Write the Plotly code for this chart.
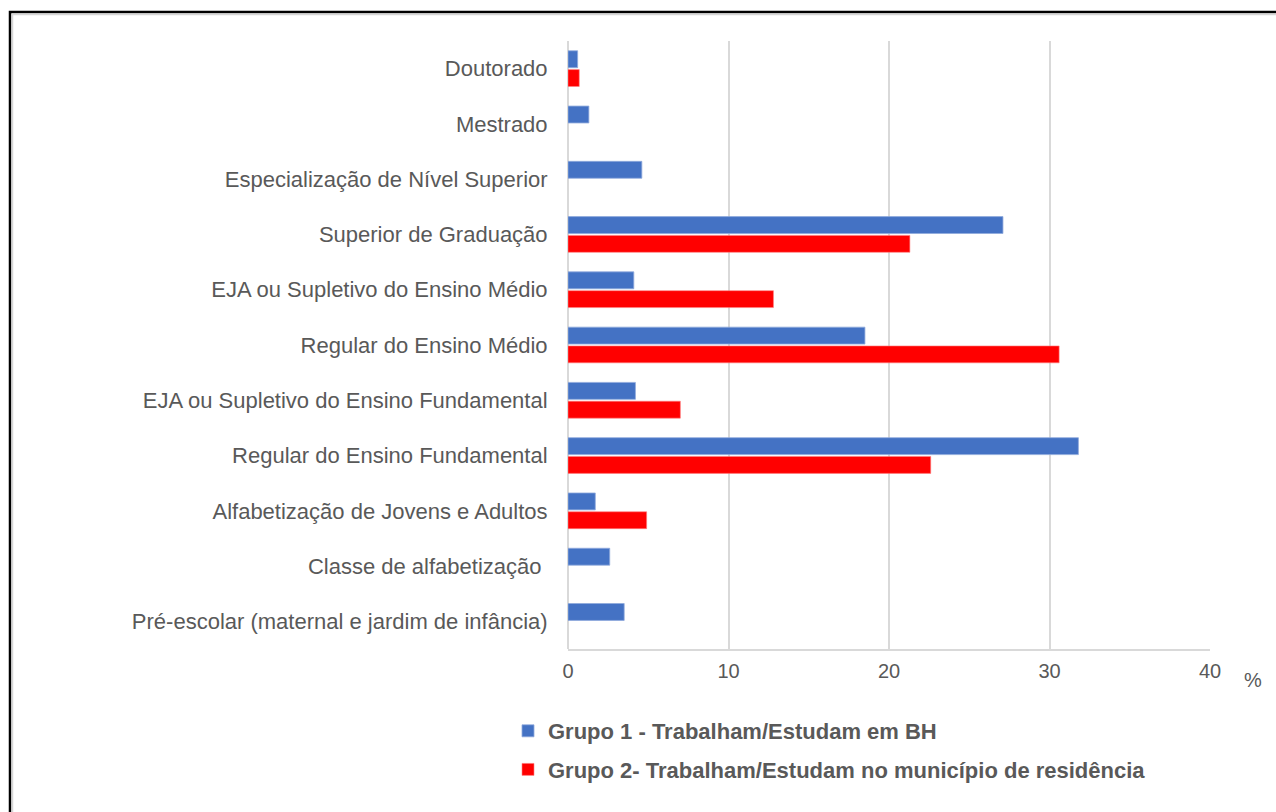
import plotly.graph_objects as go

# Education level categories, listed top to bottom
categories = [
    "Doutorado",
    "Mestrado",
    "Especialização de Nível Superior",
    "Superior de Graduação",
    "EJA ou Supletivo do Ensino Médio",
    "Regular do Ensino Médio",
    "EJA ou Supletivo do Ensino Fundamental",
    "Regular do Ensino Fundamental",
    "Alfabetização de Jovens e Adultos",
    "Classe de alfabetização\u00a0",
    "Pré-escolar (maternal e jardim de infância)",
]

# Percentages per group
grupo1 = [0.6, 1.3, 4.6, 27.1, 4.1, 18.5, 4.2, 31.8, 1.7, 2.6, 3.5]
grupo2 = [0.7, 0.0, 0.0, 21.3, 12.8, 30.6, 7.0, 22.6, 4.9, 0.0, 0.0]

series_names = [
    "Grupo 1 - Trabalham/Estudam em BH",
    "Grupo 2- Trabalham/Estudam no município de residência",
]

x_ticks = [0, 10, 20, 30, 40]

FONT = "Liberation Sans, Arial, sans-serif"
GREY_TEXT = "#595959"


def outline_widths(values, w):
    # no outline on empty bars, so nothing shows at zero
    return [w if v > 0 else 0 for v in values]


fig = go.Figure()
fig.add_trace(go.Bar(
    y=categories, x=grupo1, orientation="h", name=series_names[0],
    legendgroup="g1",
    marker=dict(color="#4472C4",
                line=dict(color="#8FAADC", width=outline_widths(grupo1, 0.8))),
))
fig.add_trace(go.Bar(
    y=categories, x=grupo2, orientation="h", name=series_names[1],
    legendgroup="g2",
    marker=dict(color="#FF0000",
                line=dict(color="#FF8080", width=outline_widths(grupo2, 0.6))),
))

W, H = 1276, 812
L, R, T, B = 568, 66, 41, 163
pw, ph = W - L - R, H - T - B


def px_x(p):
    return (p - L) / pw


def px_y(p):
    return (H - B - p) / ph


fig.update_layout(
    width=W, height=H,
    margin=dict(l=L, r=R, t=T, b=B),
    paper_bgcolor="white", plot_bgcolor="white",
    barmode="group", bargap=0.32, bargroupgap=0.1,
    font=dict(family=FONT, size=20, color=GREY_TEXT),
    showlegend=True,
    legend=dict(
        orientation="v", traceorder="grouped", tracegroupgap=7,
        x=px_x(508), xanchor="left", y=px_y(710), yanchor="top",
        font=dict(family=FONT, size=22, color=GREY_TEXT, weight="bold"),
        bgcolor="rgba(0,0,0,0)",
    ),
    xaxis=dict(
        range=[0, 40], tickvals=x_ticks, ticktext=[str(v) for v in x_ticks],
        showgrid=True, gridcolor="#D9D9D9", gridwidth=2,
        zeroline=True, zerolinecolor="#D9D9D9", zerolinewidth=2,
        showline=True, linecolor="#D9D9D9", linewidth=1.5,
        ticks="outside", ticklen=3, tickcolor="rgba(0,0,0,0)",
        tickfont=dict(family=FONT, size=20, color=GREY_TEXT),
        fixedrange=True,
    ),
    yaxis=dict(
        autorange="reversed", categoryorder="array", categoryarray=categories,
        showgrid=False, zeroline=False, showline=False,
        ticks="outside", ticklen=15, tickcolor="rgba(0,0,0,0)",
        tickfont=dict(family=FONT, size=22, color=GREY_TEXT),
        fixedrange=True,
    ),
    annotations=[dict(
        text="%", xref="paper", yref="paper",
        x=px_x(1253), y=px_y(680), xanchor="center", yanchor="middle",
        showarrow=False, font=dict(family=FONT, size=20, color=GREY_TEXT),
    )],
    shapes=[
        # outer frame
        dict(type="rect", xref="paper", yref="paper",
             x0=px_x(10), y0=px_y(12), x1=px_x(1400), y1=px_y(900),
             line=dict(color="black", width=2.5), layer="above"),
        dict(type="rect", xref="paper", yref="paper",
             x0=px_x(12.5), y0=px_y(14.5), x1=px_x(1400), y1=px_y(900),
             line=dict(color="#D6D6D6", width=1.5), layer="above"),
    ],
)

fig.write_html("out.html")
